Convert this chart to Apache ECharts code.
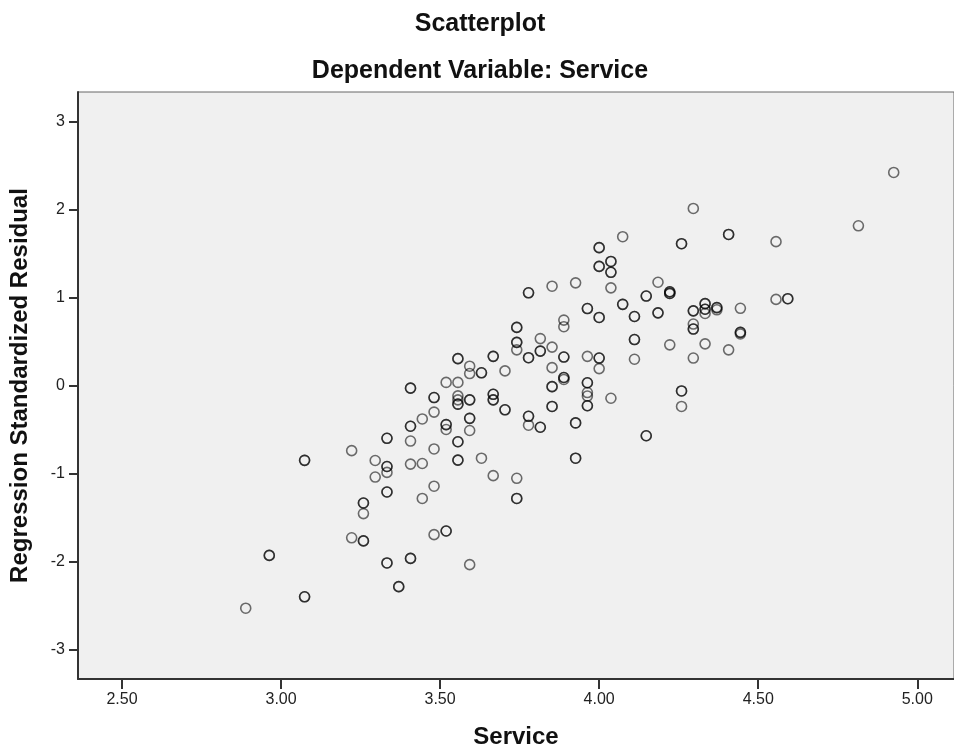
<!DOCTYPE html>
<html>
<head>
<meta charset="utf-8">
<script src="https://cdn.jsdelivr.net/npm/echarts@6/dist/echarts.min.js"></script>
<style>
html,body{margin:0;padding:0;background:#fff;}
#chart{width:954px;height:754px;}
</style>
</head>
<body>
<div id="chart"></div>
<script>
// Service (x) values, regression standardized residuals (y), and number of overlapping cases
const serviceX = [
  2.889, 2.963, 3.074, 3.074, 3.222, 3.222, 3.259, 3.259, 3.259, 3.296, 3.296,
  3.333, 3.333, 3.333, 3.333, 3.333, 3.370,
  3.407, 3.407, 3.407, 3.407, 3.407, 3.444, 3.444, 3.444,
  3.481, 3.481, 3.481, 3.481, 3.481, 3.519, 3.519, 3.519, 3.519,
  3.556, 3.556, 3.556, 3.556, 3.556, 3.556, 3.556,
  3.593, 3.593, 3.593, 3.593, 3.593, 3.593, 3.630, 3.630,
  3.667, 3.667, 3.667, 3.667, 3.704, 3.704,
  3.741, 3.741, 3.741, 3.741, 3.741, 3.778, 3.778, 3.778, 3.778,
  3.815, 3.815, 3.815, 3.852, 3.852, 3.852, 3.852, 3.852,
  3.889, 3.889, 3.889, 3.889, 3.889, 3.926, 3.926, 3.926,
  3.963, 3.963, 3.963, 3.963, 3.963, 3.963,
  4.000, 4.000, 4.000, 4.000, 4.000, 4.037, 4.037, 4.037, 4.037,
  4.074, 4.074, 4.111, 4.111, 4.111, 4.148, 4.148, 4.185, 4.185,
  4.222, 4.222, 4.222, 4.259, 4.259, 4.259,
  4.296, 4.296, 4.296, 4.296, 4.296, 4.333, 4.333, 4.333, 4.333,
  4.370, 4.370, 4.407, 4.407, 4.444, 4.444, 4.444,
  4.556, 4.556, 4.593, 4.815, 4.926
];
const residualY = [
  -2.53, -1.93, -0.85, -2.40, -0.74, -1.73, -1.335, -1.455, -1.765, -0.852, -1.04,
  -0.60, -0.92, -0.987, -1.21, -2.016, -2.285,
  -0.03, -0.463, -0.631, -0.893, -1.964, -0.38, -0.886, -1.283,
  -0.137, -0.302, -0.721, -1.144, -1.694, 0.035, -0.444, -0.50, -1.653,
  0.305, 0.035, -0.118, -0.163, -0.212, -0.639, -0.848,
  0.219, 0.136, -0.163, -0.373, -0.511, -2.035, 0.144, -0.826,
  0.331, -0.10, -0.163, -1.024, 0.166, -0.276,
  0.66, 0.49, 0.405, -1.054, -1.283, 1.053, 0.316, -0.35, -0.451,
  0.533, 0.391, -0.474, 1.128, 0.436, 0.203, -0.013, -0.238,
  0.743, 0.668, 0.323, 0.091, 0.069, 1.166, -0.425, -0.826,
  0.874, 0.331, 0.031, -0.08, -0.12, -0.23,
  1.566, 1.353, 0.773, 0.312, 0.192, 1.409, 1.286, 1.109, -0.145,
  1.69, 0.922, 0.784, 0.522, 0.298, 1.016, -0.571, 1.173, 0.825,
  1.065, 1.046, 0.462, 1.611, -0.062, -0.238,
  2.011, 0.848, 0.698, 0.641, 0.312, 0.93, 0.866, 0.818, 0.473,
  0.885, 0.86, 1.716, 0.405, 0.877, 0.604, 0.585,
  1.634, 0.978, 0.986, 1.814, 2.42
];
const caseCount = [
  1, 2, 2, 2, 1, 1, 2, 1, 2, 1, 1,
  2, 2, 1, 2, 2, 2,
  2, 2, 1, 1, 2, 1, 1, 1,
  2, 1, 1, 1, 1, 1, 2, 1, 2,
  2, 1, 1, 1, 2, 2, 2,
  1, 1, 2, 2, 1, 1, 2, 1,
  2, 2, 2, 1, 1, 2,
  2, 2, 1, 1, 2, 2, 2, 2, 1,
  1, 2, 2, 1, 1, 1, 2, 2,
  1, 1, 2, 2, 1, 1, 2, 2,
  2, 1, 2, 1, 1, 2,
  2, 2, 2, 2, 1, 2, 2, 1, 1,
  1, 2, 2, 2, 1, 2, 2, 1, 2,
  2, 2, 1, 2, 2, 1,
  1, 2, 1, 2, 1, 2, 2, 1, 1,
  2, 1, 2, 1, 1, 2, 1,
  1, 1, 2, 1, 1
];
const xTicks = [2.5, 3.0, 3.5, 4.0, 4.5, 5.0];
const yTicks = [-3, -2, -1, 0, 1, 2, 3];

const points = [];
for (let i = 0; i < serviceX.length; i++) {
  for (let c = 0; c < caseCount[i]; c++) points.push([serviceX[i], residualY[i]]);
}

const FONT = '"Liberation Sans", Arial, sans-serif';
const chart = echarts.init(document.getElementById('chart'), null, {renderer: 'canvas'});
chart.setOption({
  animation: false,
  backgroundColor: '#ffffff',
  graphic: [
    {type: 'text', x: 480, y: 24, silent: true,
     style: {text: 'Scatterplot', fill: '#111', font: 'bold 25px ' + FONT, align: 'center', verticalAlign: 'middle'}},
    {type: 'text', x: 480, y: 71, silent: true,
     style: {text: 'Dependent Variable: Service', fill: '#111', font: 'bold 25px ' + FONT, align: 'center', verticalAlign: 'middle'}}
  ],
  grid: {left: 75, right: -3, top: 92, bottom: 68, show: true, backgroundColor: '#f0f0f0', borderColor: '#666', borderWidth: 1},
  xAxis: {
    type: 'value', min: 2.3617, max: 5.1155,
    name: 'Service', nameLocation: 'middle', nameGap: 46,
    nameTextStyle: {fontFamily: FONT, fontWeight: 'bold', fontSize: 24, color: '#111'},
    axisLine: {show: true, onZero: false, lineStyle: {color: '#333', width: 2}},
    axisTick: {show: true, customValues: xTicks, length: 10, lineStyle: {color: '#333', width: 2}},
    axisLabel: {customValues: xTicks, formatter: v => v.toFixed(2), fontFamily: FONT, fontSize: 16, color: '#222', margin: 13},
    splitLine: {show: false}
  },
  yAxis: {
    type: 'value', min: -3.334, max: 3.334,
    name: 'Regression Standardized Residual', nameLocation: 'middle', nameGap: 46,
    nameTextStyle: {fontFamily: FONT, fontWeight: 'bold', fontSize: 24, color: '#111'},
    axisLine: {show: true, onZero: false, lineStyle: {color: '#333', width: 2}},
    axisTick: {show: true, customValues: yTicks, length: 9, lineStyle: {color: '#333', width: 2}},
    axisLabel: {customValues: yTicks, fontFamily: FONT, fontSize: 16, color: '#222', margin: 13},
    splitLine: {show: false}
  },
  series: [{
    type: 'scatter',
    data: points,
    symbol: 'circle',
    symbolSize: 10,
    itemStyle: {color: 'rgba(0,0,0,0)', borderColor: 'rgba(0,0,0,0.7)', borderWidth: 1.6},
    emphasis: {disabled: true}
  }]
});
</script>
</body>
</html>
